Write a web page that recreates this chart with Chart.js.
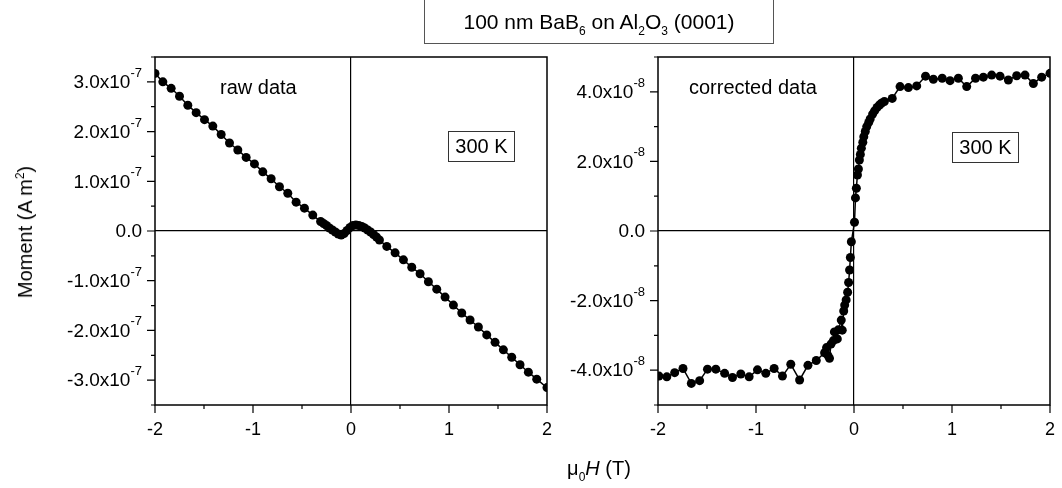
<!DOCTYPE html>
<html lang="en">
<head>
<meta charset="UTF-8">
<title>100 nm BaB6 on Al2O3 (0001)</title>
<script src="https://cdn.jsdelivr.net/npm/chart.js"></script>
<style>
  body { margin: 0; background: #fff; font-family: "Liberation Sans", Arial, sans-serif; color: #000; }
  #wrap { position: relative; width: 1062px; height: 488px; overflow: hidden; }
  .pane { position: absolute; top: 0; height: 488px; }
  .lbl { position: absolute; white-space: nowrap; line-height: 1; }
  .sub { font-size: 12px; position: relative; top: 6px; }
  .sup { font-size: 12px; position: relative; top: -8px; }
  #title { left: 424px; top: -1px; width: 348px; height: 43px; border: 1px solid #555;
           font-size: 21px; text-align: center; line-height: 44px; }
  .tbox { position: absolute; border: 1px solid #333; font-size: 20px; text-align: center;
          line-height: 29px; height: 29px; width: 65px; }
</style>
</head>
<body>
<div id="wrap">
  <div class="pane" style="left:0;width:560px"><canvas id="rawChart" width="560" height="488"></canvas></div>
  <div class="pane" style="left:560px;width:502px"><canvas id="corrChart" width="502" height="488"></canvas></div>

  <div id="title" class="lbl">100 nm BaB<span class="sub">6</span> on Al<span class="sub">2</span>O<span class="sub">3</span> (0001)</div>

  <div class="lbl" style="left:220px;top:77px;font-size:20px">raw data</div>
  <div class="lbl" style="left:689px;top:77px;font-size:20px">corrected data</div>
  <div class="tbox" style="left:448px;top:131px">300 K</div>
  <div class="tbox" style="left:952px;top:132px">300 K</div>

  <div class="lbl" style="left:25px;top:232px;font-size:20px;transform:translate(-50%,-50%) rotate(-90deg)">Moment (A m<span class="sup">2</span>)</div>
  <div class="lbl" style="left:599px;top:468px;font-size:20px;transform:translate(-50%,-50%)">&mu;<span class="sub">0</span><i>H</i> (T)</div>
</div>

<script>
// raw data: field (T) and moment (A m^2)
const rawField = [-2.00, -1.92, -1.835, -1.75, -1.665, -1.58, -1.495, -1.41, -1.325, -1.24,
  -1.155, -1.07, -0.985, -0.90, -0.815, -0.73, -0.645, -0.56, -0.475, -0.39,
  -0.31, -0.28, -0.25, -0.22, -0.19, -0.16, -0.13, -0.10, -0.07, -0.04,
  -0.01, 0.02, 0.05, 0.08, 0.11, 0.14, 0.17, 0.20, 0.23, 0.26,
  0.29, 0.365, 0.45, 0.535, 0.62, 0.705, 0.79, 0.875, 0.96, 1.045,
  1.13, 1.215, 1.30, 1.385, 1.47, 1.555, 1.64, 1.725, 1.81, 1.895, 2.00];
const rawMoment = [3.17e-7, 3.00e-7, 2.87e-7, 2.71e-7, 2.53e-7, 2.38e-7, 2.24e-7, 2.11e-7, 1.94e-7, 1.77e-7,
  1.63e-7, 1.48e-7, 1.35e-7, 1.19e-7, 1.05e-7, 0.89e-7, 0.76e-7, 0.58e-7, 0.46e-7, 0.32e-7,
  0.19e-7, 0.15e-7, 0.11e-7, 0.06e-7, 0.02e-7, -0.02e-7, -0.06e-7, -0.08e-7, -0.05e-7, 0.01e-7,
  0.07e-7, 0.11e-7, 0.12e-7, 0.11e-7, 0.09e-7, 0.06e-7, 0.02e-7, -0.02e-7, -0.07e-7, -0.12e-7,
  -0.18e-7, -0.31e-7, -0.44e-7, -0.58e-7, -0.73e-7, -0.86e-7, -1.02e-7, -1.17e-7, -1.33e-7, -1.49e-7,
  -1.65e-7, -1.79e-7, -1.93e-7, -2.09e-7, -2.24e-7, -2.39e-7, -2.54e-7, -2.69e-7, -2.84e-7, -2.98e-7, -3.15e-7];

// corrected data
const corrField = [-1.99, -1.91, -1.83, -1.745, -1.66, -1.575, -1.495, -1.41, -1.32, -1.24,
  -1.155, -1.07, -0.985, -0.90, -0.815, -0.73, -0.645, -0.555, -0.47, -0.385,
  -0.30, -0.28, -0.265, -0.25, -0.235, -0.21, -0.20, -0.17, -0.16, -0.13,
  -0.12, -0.105, -0.095, -0.08, -0.065, -0.055, -0.045, -0.037, -0.027, 0.005,
  0.015, 0.024, 0.035, 0.045, 0.055, 0.065, 0.075, 0.09, 0.10, 0.115,
  0.13, 0.15, 0.165, 0.19, 0.21, 0.235, 0.26, 0.28, 0.31, 0.39,
  0.47, 0.555, 0.64, 0.73, 0.81, 0.90, 0.98, 1.065, 1.15, 1.24,
  1.32, 1.405, 1.49, 1.575, 1.66, 1.745, 1.83, 1.915, 2.00];
const corrMoment = [-4.17e-8, -4.19e-8, -4.07e-8, -3.95e-8, -4.38e-8, -4.30e-8, -3.97e-8, -3.97e-8, -4.09e-8, -4.21e-8,
  -4.11e-8, -4.19e-8, -3.99e-8, -4.09e-8, -3.95e-8, -4.17e-8, -3.83e-8, -4.28e-8, -3.86e-8, -3.72e-8,
  -3.50e-8, -3.35e-8, -3.58e-8, -3.66e-8, -3.25e-8, -3.15e-8, -2.90e-8, -3.10e-8, -2.84e-8, -2.56e-8,
  -2.85e-8, -2.30e-8, -2.13e-8, -1.98e-8, -1.76e-8, -1.48e-8, -1.12e-8, -0.76e-8, -0.31e-8, 0.25e-8,
  0.95e-8, 1.23e-8, 1.61e-8, 1.78e-8, 2.04e-8, 2.20e-8, 2.38e-8, 2.55e-8, 2.71e-8, 2.86e-8,
  3.00e-8, 3.12e-8, 3.22e-8, 3.36e-8, 3.45e-8, 3.55e-8, 3.62e-8, 3.67e-8, 3.72e-8, 3.81e-8,
  4.15e-8, 4.12e-8, 4.17e-8, 4.45e-8, 4.36e-8, 4.39e-8, 4.32e-8, 4.39e-8, 4.15e-8, 4.39e-8,
  4.42e-8, 4.48e-8, 4.45e-8, 4.34e-8, 4.46e-8, 4.48e-8, 4.24e-8, 4.42e-8, 4.53e-8];

// labelled ticks
const fieldTicks = [-2, -1, 0, 1, 2];
const rawMomentTicks = [-3e-7, -2e-7, -1e-7, 0, 1e-7, 2e-7, 3e-7];
const corrMomentTicks = [-4e-8, -2e-8, 0, 2e-8, 4e-8];

const FONT = '"Liberation Sans", Arial, sans-serif';

// frame, outward ticks and y labels with superscript exponent
const framePlugin = {
  id: 'frame',
  afterDraw(chart, args, opts) {
    const { ctx, chartArea: a, scales: { x, y } } = chart;
    ctx.save();
    ctx.strokeStyle = '#000';
    ctx.lineWidth = 1.5;
    ctx.strokeRect(a.left, a.top, a.right - a.left, a.bottom - a.top);

    ctx.lineWidth = 1.2;
    ctx.beginPath();
    x.ticks.forEach(t => {
      const px = x.getPixelForValue(t.value);
      const len = Number.isInteger(t.value) ? 8 : 4;
      ctx.moveTo(px, a.bottom);
      ctx.lineTo(px, a.bottom + len);
    });
    y.ticks.forEach(t => {
      const py = y.getPixelForValue(t.value);
      const r = t.value / opts.major;
      const len = Math.abs(r - Math.round(r)) < 1e-6 ? 8 : 4;
      ctx.moveTo(a.left, py);
      ctx.lineTo(a.left - len, py);
    });
    ctx.stroke();

    ctx.fillStyle = '#000';
    opts.labels.forEach(v => {
      const py = y.getPixelForValue(v);
      const right = a.left - 13;
      if (Math.abs(v) < 1e-20) {
        ctx.font = '19px ' + FONT;
        ctx.textAlign = 'right';
        ctx.textBaseline = 'middle';
        ctx.fillText('0.0', right, py + 1);
        return;
      }
      const supTxt = String(opts.exp);
      const main = (v / Math.pow(10, opts.exp)).toFixed(1) + 'x10';
      ctx.font = '13px ' + FONT;
      const sw = ctx.measureText(supTxt).width;
      ctx.textAlign = 'left';
      ctx.textBaseline = 'alphabetic';
      ctx.fillText(supTxt, right - sw, py - 5);
      ctx.font = '19px ' + FONT;
      ctx.textAlign = 'right';
      ctx.textBaseline = 'middle';
      ctx.fillText(main, right - sw, py + 1);
    });
    ctx.restore();
  }
};

function zeroLine(c) {
  return c.tick && Math.abs(c.tick.value) < 1e-20 ? '#000' : 'rgba(0,0,0,0)';
}

function makePanel(id, xs, ys, yMin, yMax, yStep, yWidth, padRight, frameOpts) {
  return new Chart(document.getElementById(id), {
    type: 'scatter',
    data: {
      datasets: [{
        data: xs.map((v, i) => ({ x: v, y: ys[i] })),
        showLine: true,
        borderColor: '#000',
        borderWidth: 1.5,
        backgroundColor: '#000',
        pointRadius: 4.5,
        pointBorderWidth: 0,
        clip: 0
      }]
    },
    options: {
      responsive: false,
      animation: false,
      layout: { padding: { left: 0, right: padRight, top: 57, bottom: 43 } },
      plugins: { legend: { display: false }, tooltip: { enabled: false }, frame: frameOpts },
      scales: {
        x: {
          type: 'linear', min: -2, max: 2,
          border: { display: false },
          grid: { drawTicks: false, color: zeroLine, lineWidth: 1.2 },
          ticks: {
            stepSize: 0.5, padding: 14, color: '#000',
            font: { family: FONT, size: 18 },
            maxRotation: 0,
            callback: v => fieldTicks.includes(v) ? String(v) : ''
          },
          afterFit: s => { s.height = 40; s.paddingLeft = 0; s.paddingRight = 0; }
        },
        y: {
          type: 'linear', min: yMin, max: yMax,
          border: { display: false },
          grid: { drawTicks: false, color: zeroLine, lineWidth: 1.2 },
          ticks: { stepSize: yStep, display: false },
          afterFit: s => { s.width = yWidth; s.paddingTop = 0; s.paddingBottom = 0; }
        }
      }
    },
    plugins: [framePlugin]
  });
}

makePanel('rawChart', rawField, rawMoment, -3.5e-7, 3.5e-7, 0.5e-7, 155, 13,
  { major: 1e-7, exp: -7, labels: rawMomentTicks });
makePanel('corrChart', corrField, corrMoment, -5e-8, 5e-8, 1e-8, 98, 12,
  { major: 2e-8, exp: -8, labels: corrMomentTicks });
</script>
</body>
</html>
